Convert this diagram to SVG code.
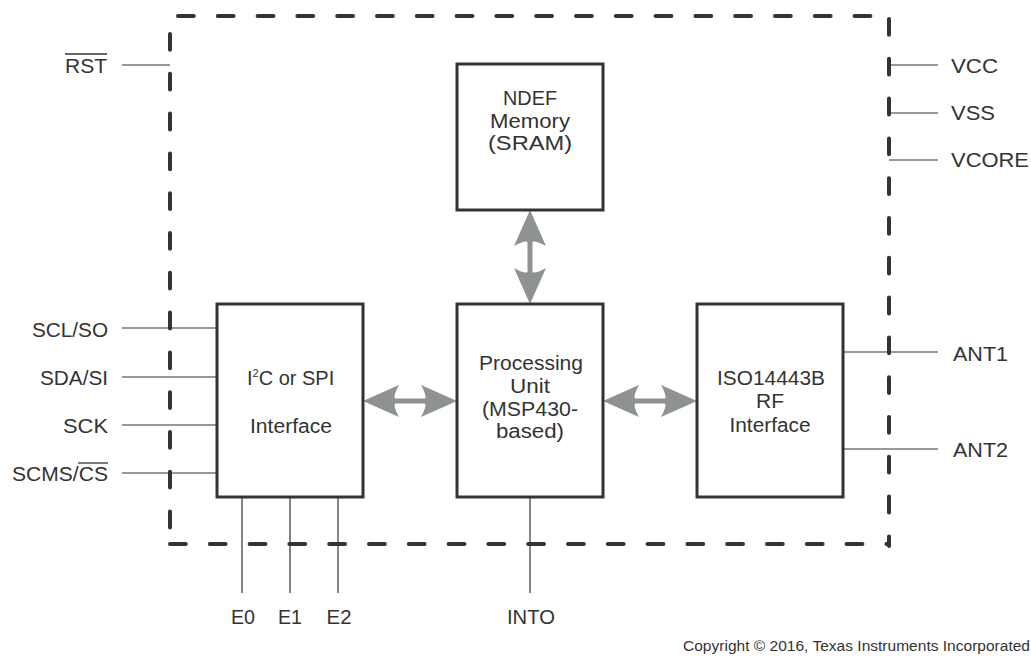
<svg xmlns="http://www.w3.org/2000/svg" width="1031" height="656" viewBox="0 0 1031 656">
<style>
  text { font-family: "Liberation Sans", Arial, sans-serif; font-size: 20px; fill: #333; }
  .box { fill: #fff; stroke: #333; stroke-width: 3; }
  .dash { stroke: #333; stroke-width: 4; stroke-linecap: round; stroke-dasharray: 15.8 24; fill: none; }
  .pin { stroke: #333; stroke-width: 1.2; fill: none; }
  .arrow { fill: #8e9292; }
  .ovl { stroke: #333; stroke-width: 1.3; }
  .mid { text-anchor: middle; }
  .end { text-anchor: end; }
</style>
<defs>
  <path id="dblarrow" d="M-47,0 L-11,-16 Q-17,-5 -15,-2.5 L15,-2.5 Q17,-5 11,-16 L47,0 L11,16 Q17,5 15,2.5 L-15,2.5 Q-17,5 -11,16 Z"/>
</defs>
<rect width="1031" height="656" fill="#fff"/>

<g id="boundary">
  <line class="dash" x1="178" y1="16" x2="889" y2="16"/>
  <line class="dash" x1="889" y1="19" x2="889" y2="546"/>
  <line class="dash" x1="170" y1="34" x2="170" y2="546"/>
  <line class="dash" x1="170" y1="544" x2="889" y2="544"/>
</g>

<g id="connectors">
  <line class="pin" x1="122" y1="65" x2="170" y2="65"/>
  <line class="pin" x1="889" y1="65" x2="938" y2="65"/>
  <line class="pin" x1="889" y1="113" x2="938" y2="113"/>
  <line class="pin" x1="889" y1="160" x2="938" y2="160"/>
  <line class="pin" x1="122" y1="328" x2="217" y2="328"/>
  <line class="pin" x1="122" y1="377" x2="217" y2="377"/>
  <line class="pin" x1="122" y1="425" x2="217" y2="425"/>
  <line class="pin" x1="122" y1="473" x2="217" y2="473"/>
  <line class="pin" x1="843" y1="352" x2="938" y2="352"/>
  <line class="pin" x1="843" y1="449" x2="938" y2="449"/>
  <line class="pin" x1="242" y1="497" x2="242" y2="593"/>
  <line class="pin" x1="290" y1="497" x2="290" y2="593"/>
  <line class="pin" x1="338" y1="497" x2="338" y2="593"/>
  <line class="pin" x1="530" y1="497" x2="530" y2="593"/>
  <use href="#dblarrow" class="arrow" transform="translate(410,401)"/>
  <use href="#dblarrow" class="arrow" transform="translate(650,401)"/>
  <use href="#dblarrow" class="arrow" transform="translate(530,257) rotate(90)"/>
</g>

<g id="ndef">
  <rect class="box" x="457" y="64" width="146" height="146"/>
  <text class="mid" x="530" y="105" textLength="54" lengthAdjust="spacingAndGlyphs">NDEF</text>
  <text class="mid" x="530" y="128" textLength="80" lengthAdjust="spacingAndGlyphs">Memory</text>
  <text class="mid" x="530" y="150" textLength="84" lengthAdjust="spacingAndGlyphs">(SRAM)</text>
</g>

<g id="i2c">
  <rect class="box" x="217" y="304" width="146" height="193"/>
  <text x="247" y="385">I<tspan font-size="11" dy="-8">2</tspan><tspan dy="8">C or SPI</tspan></text>
  <text class="mid" x="291" y="433" textLength="82" lengthAdjust="spacingAndGlyphs">Interface</text>
</g>

<g id="processing">
  <rect class="box" x="457" y="304" width="146" height="193"/>
  <text class="mid" x="531" y="370" textLength="104" lengthAdjust="spacingAndGlyphs">Processing</text>
  <text class="mid" x="530" y="393" textLength="40" lengthAdjust="spacingAndGlyphs">Unit</text>
  <text class="mid" x="530" y="416" textLength="96" lengthAdjust="spacingAndGlyphs">(MSP430-</text>
  <text class="mid" x="530" y="438" textLength="68" lengthAdjust="spacingAndGlyphs">based)</text>
</g>

<g id="iso">
  <rect class="box" x="697" y="304" width="146" height="193"/>
  <text class="mid" x="771" y="385" textLength="108" lengthAdjust="spacingAndGlyphs">ISO14443B</text>
  <text class="mid" x="770" y="408" textLength="28" lengthAdjust="spacingAndGlyphs">RF</text>
  <text class="mid" x="770" y="432" textLength="81" lengthAdjust="spacingAndGlyphs">Interface</text>
</g>

<g id="pins">
  <text x="65" y="73" textLength="42" lengthAdjust="spacingAndGlyphs">RST</text>
  <line class="ovl" x1="65" y1="54" x2="107" y2="54"/>
  <text x="951" y="73" textLength="47" lengthAdjust="spacingAndGlyphs">VCC</text>
  <text x="951" y="120" textLength="44" lengthAdjust="spacingAndGlyphs">VSS</text>
  <text x="951" y="167" textLength="78" lengthAdjust="spacingAndGlyphs">VCORE</text>
  <text class="end" x="108" y="337" textLength="76" lengthAdjust="spacingAndGlyphs">SCL/SO</text>
  <text class="end" x="108" y="385" textLength="68" lengthAdjust="spacingAndGlyphs">SDA/SI</text>
  <text class="end" x="108" y="433" textLength="45" lengthAdjust="spacingAndGlyphs">SCK</text>
  <text class="end" x="108" y="481" textLength="96" lengthAdjust="spacingAndGlyphs">SCMS/CS</text>
  <line class="ovl" x1="78" y1="463" x2="108" y2="463"/>
  <text x="953" y="361" textLength="55" lengthAdjust="spacingAndGlyphs">ANT1</text>
  <text x="953" y="457" textLength="55" lengthAdjust="spacingAndGlyphs">ANT2</text>
  <text class="mid" x="243" y="624" textLength="24" lengthAdjust="spacingAndGlyphs">E0</text>
  <text class="mid" x="290" y="624" textLength="24" lengthAdjust="spacingAndGlyphs">E1</text>
  <text class="mid" x="339" y="624" textLength="25" lengthAdjust="spacingAndGlyphs">E2</text>
  <text class="mid" x="531" y="624" textLength="48" lengthAdjust="spacingAndGlyphs">INTO</text>
</g>

<text x="683" y="651" style="font-size:15.5px" textLength="347" lengthAdjust="spacingAndGlyphs">Copyright © 2016, Texas Instruments Incorporated</text>
</svg>
